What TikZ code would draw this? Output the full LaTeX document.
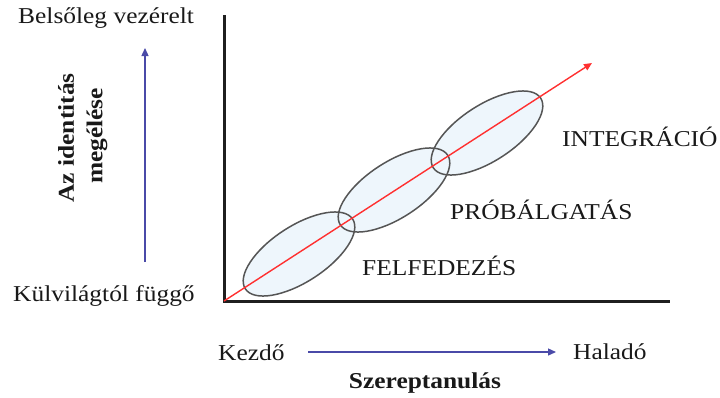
\documentclass[tikz,border=0pt]{standalone}
\usepackage{fontspec}
\setmainfont[FakeStretch=1.12]{Liberation Serif}
\usetikzlibrary{arrows.meta,shapes.geometric}
\definecolor{axisblue}{HTML}{4A4AA8}
\definecolor{arrowred}{HTML}{FF3030}
\definecolor{ellfill}{HTML}{EEF6FC}
\definecolor{ellline}{HTML}{555555}
\tikzset{
  lbl/.style={inner sep=0pt, font=\fontsize{22.7}{26}\selectfont, text=black!90},
  blbl/.style={inner sep=0pt, font=\fontsize{22.7}{26}\selectfont\bfseries, text=black!90},
  phase/.style={ellipse, draw=ellline, line width=1.5pt, rotate=33, minimum width=128pt, minimum height=56pt, inner sep=0pt},
  bluearrow/.style={draw=axisblue, line width=1.3pt, -{Triangle[length=8pt,width=7pt]}},
}
\begin{document}
\begin{tikzpicture}[x=1pt,y=-1pt]
\useasboundingbox (0,0) rectangle (720,397);
% ellipse fills
\foreach \c in {(299,254),(394,190),(487,133)}
  \fill[ellfill, rotate around={33:\c}] \c ellipse [x radius=64pt, y radius=28pt];
% ellipse outlines
\node[phase] (e1) at (299,254) {};
\node[phase] (e2) at (394,190) {};
\node[phase] (e3) at (487,133) {};
% axes
\coordinate (top) at (224,15);
\coordinate (O) at (224,301);
\coordinate (right) at (670,301);
\draw[line width=3pt, black!88, line join=miter] (top) -- (O) -- (right);
% red progression arrow
\coordinate (rtip) at (592,63);
\draw[arrowred, line width=1.4pt, -{Triangle[length=8pt,width=7pt]}] (O) -- (rtip);
% labels
\node[lbl, anchor=west] (bv) at (18,18) {Belsőleg vezérelt};
\node[lbl, anchor=west] (kf) at (13,296) {Külvilágtól függő};
\node[blbl, rotate=90] (id) at (66,138) {Az identitás};
\node[blbl, rotate=90] (me) at (97,136) {megélése};
\coordinate (vb) at (145,262);
\coordinate (vt) at (145,48);
\draw[bluearrow] (vb) -- (vt);
\node[lbl, anchor=west] (kz) at (218,353) {Kezdő};
\node[lbl, anchor=west] (hl) at (573,352) {Haladó};
\coordinate (hs) at (308,352);
\coordinate (he) at (556,352);
\draw[bluearrow] (hs) -- (he);
\node[blbl] (sz) at (425,383) {Szereptanulás};
\node[lbl, anchor=west] (ig) at (562,137) {INTEGRÁCIÓ};
\node[lbl, anchor=west] (pr) at (450,210) {PRÓBÁLGATÁS};
\node[lbl, anchor=west] (ff) at (362,266) {FELFEDEZÉS};
\end{tikzpicture}
\end{document}
